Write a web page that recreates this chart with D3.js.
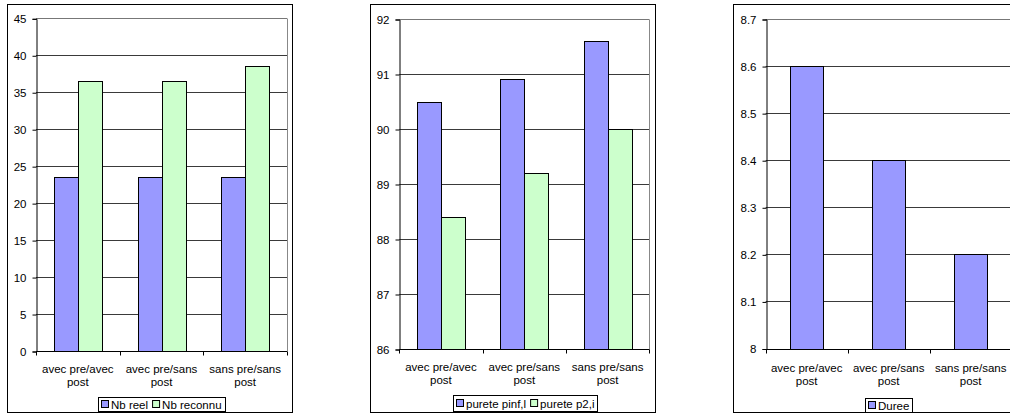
<!DOCTYPE html>
<html>
<head>
<meta charset="utf-8">
<script src="https://cdn.jsdelivr.net/npm/d3@7"></script>
<style>
  html, body { margin: 0; padding: 0; background: #fff; }
  svg { display: block; }
  text { font-family: "Liberation Sans", Arial, sans-serif; font-size: 11.5px; fill: #000; }
</style>
</head>
<body>
<svg id="chart" width="1010" height="415"></svg>
<script>
// Shared categories (two-line labels)
const categories = ["avec pre/avec post", "avec pre/sans post", "sans pre/sans post"];
const categoryLines = [["avec pre/avec", "post"], ["avec pre/sans", "post"], ["sans pre/sans", "post"]];

// Panel 1: counts
const seriesNames1 = ["Nb reel", "Nb reconnu"];
const nbReel = [23.6, 23.6, 23.6];
const nbReconnu = [36.5, 36.5, 38.6];
const ticks1 = [0, 5, 10, 15, 20, 25, 30, 35, 40, 45];

// Panel 2: purity
const seriesNames2 = ["purete pinf,l", "purete p2,i"];
const puretePinf = [90.5, 90.9, 91.6];
const puretePi2 = [88.4, 89.2, 90.0];
const ticks2 = [86, 87, 88, 89, 90, 91, 92];

// Panel 3: duration
const seriesNames3 = ["Duree"];
const duree = [8.6, 8.4, 8.2];
const ticks3 = [8, 8.1, 8.2, 8.3, 8.4, 8.5, 8.6, 8.7];

const colors = ["#9999FF", "#CCFFCC"];

const svg = d3.select("#chart");

function drawPanel(cfg) {
  const g = svg.append("g");
  // outer frame
  g.append("rect")
    .attr("x", cfg.frame[0] + 0.5).attr("y", cfg.frame[1] + 0.5)
    .attr("width", cfg.frame[2] - cfg.frame[0]).attr("height", cfg.frame[3] - cfg.frame[1])
    .attr("fill", "#fff").attr("stroke", "#000").attr("stroke-width", 1);

  const [L, T, R, B] = cfg.plot;
  const y = d3.scaleLinear().domain(cfg.domain).range([B, T]);
  const x0 = d3.scaleBand().domain(categories).range([L, R]).paddingInner(0).paddingOuter(0);
  const nSeries = cfg.series.length;
  const groupKeys = d3.range(nSeries);
  // bar group width: n bars + 150% gap
  const barW = x0.bandwidth() / (nSeries + 1.5);
  const x1 = d3.scaleBand().domain(groupKeys)
    .range([0.75 * barW, 0.75 * barW + nSeries * barW]);

  // gridlines
  g.append("g").selectAll("line").data(cfg.ticks.slice(1)).join("line")
    .attr("x1", L).attr("x2", R)
    .attr("y1", d => Math.round(y(d)) + 0.5).attr("y2", d => Math.round(y(d)) + 0.5)
    .attr("stroke", (d, i, a) => i === a.length - 1 ? "#777" : "#3a3a3a").attr("stroke-width", 1);

  // plot area border on the right
  g.append("line")
    .attr("x1", Math.round(R) + 0.5).attr("x2", Math.round(R) + 0.5)
    .attr("y1", Math.round(T) + 0.5).attr("y2", Math.round(B) + 0.5)
    .attr("stroke", "#888");

  // bars
  cfg.series.forEach((vals, si) => {
    g.append("g").selectAll("rect").data(vals).join("rect")
      .attr("x", (d, i) => Math.round(x0(categories[i]) + x1(si)) + 0.5)
      .attr("width", Math.round(x1.bandwidth()))
      .attr("y", d => Math.round(y(d)) + 0.5)
      .attr("height", d => Math.round(y(cfg.domain[0])) - Math.round(y(d)))
      .attr("fill", colors[si]).attr("stroke", "#000").attr("stroke-width", 1);
  });

  // y axis
  const yAxis = d3.axisLeft(y).tickValues(cfg.ticks).tickSize(4).tickPadding(6)
    .tickFormat(d => d3.format(cfg.fmt)(d));
  const ya = g.append("g").attr("transform", `translate(${Math.round(L) + 0.5},0.5)`).call(yAxis);
  ya.attr("font-size", null).attr("font-family", null);
  ya.select(".domain").attr("stroke", "#000");
  ya.selectAll(".tick line").attr("stroke", "#000");
  ya.selectAll("text").attr("fill", "#000");

  // x axis baseline and ticks at category boundaries
  const bx = Math.round(B) + 0.5;
  g.append("line").attr("x1", L).attr("x2", R).attr("y1", bx).attr("y2", bx)
    .attr("stroke", "#000");
  const bounds = categories.map(c => x0(c)).concat([R]);
  g.append("g").selectAll("line").data(bounds).join("line")
    .attr("x1", d => Math.round(d) + 0.5).attr("x2", d => Math.round(d) + 0.5)
    .attr("y1", bx).attr("y2", bx + 4).attr("stroke", "#000");

  // category labels
  const lab = g.append("g").selectAll("text").data(categories).join("text")
    .attr("text-anchor", "middle")
    .attr("x", d => x0(d) + x0.bandwidth() / 2)
    .attr("y", cfg.labelY);
  lab.selectAll("tspan").data((d, i) => categoryLines[i]).join("tspan")
    .attr("x", function () { return d3.select(this.parentNode).attr("x"); })
    .attr("dy", (d, j) => j === 0 ? 0 : 12.5)
    .text(d => d);

  // legend, centred on the given x
  const [lcx, ly, lh] = cfg.legend;
  const leg = g.append("g");
  const box = leg.append("rect").attr("height", lh).attr("y", ly + 0.5)
    .attr("fill", "#fff").attr("stroke", "#000");
  const items = leg.append("g");
  let cx = 3;
  cfg.names.forEach((name, si) => {
    items.append("rect").attr("x", cx + 0.5).attr("y", ly + Math.round(lh / 2) - 4 + 0.5)
      .attr("width", 7).attr("height", 7)
      .attr("fill", colors[si]).attr("stroke", "#000");
    const t = items.append("text").attr("x", cx + 10).attr("y", ly + lh / 2 + 4.5).text(name);
    cx += 10 + t.node().getComputedTextLength() + 4;
  });
  const w = Math.round(cx - 1);
  const x = Math.round(lcx - w / 2);
  box.attr("x", x + 0.5).attr("width", w);
  items.attr("transform", `translate(${x},0)`);
}

drawPanel({
  frame: [7, 4, 292, 412],
  plot: [36, 18.3, 287, 351],
  domain: [0, 45],
  ticks: ticks1,
  fmt: "d",
  series: [nbReel, nbReconnu],
  names: seriesNames1,
  labelY: 373,
  legend: [161.5, 397, 14]
});

drawPanel({
  frame: [370, 4, 655, 412],
  plot: [399.3, 19, 649.3, 349],
  domain: [86, 92],
  ticks: ticks2,
  fmt: "d",
  series: [puretePinf, puretePi2],
  names: seriesNames2,
  labelY: 371,
  legend: [525, 395, 16]
});

drawPanel({
  frame: [733, 4, 1030, 412],
  plot: [765.7, 19, 1011.7, 348.5],
  domain: [8, 8.7],
  ticks: ticks3,
  fmt: "",
  series: [duree],
  names: seriesNames3,
  labelY: 372,
  legend: [888.5, 398, 14]
});
</script>
</body>
</html>
